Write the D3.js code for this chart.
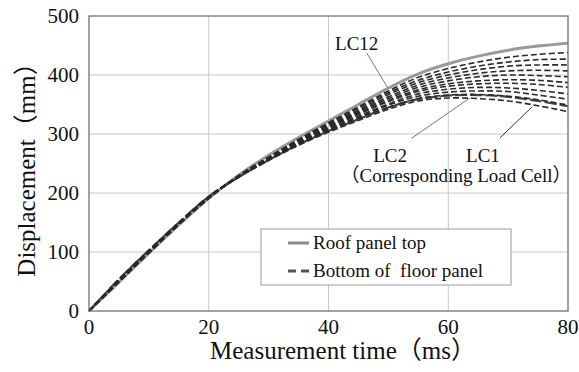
<!DOCTYPE html>
<html>
<head>
<meta charset="utf-8">
<script src="https://cdn.jsdelivr.net/npm/d3@7"></script>
<style>
    body { margin: 0; background: #fff; }
    svg text { font-family: "Liberation Serif", "Times New Roman", "Noto Sans CJK JP", serif; fill: #111; }
</style>
</head>
<body>
<div id="chart"></div>
<script>
"use strict";

// Sample times (ms)
const time = [0, 5, 10, 15, 20, 25, 30, 35, 40, 45, 50, 55, 60, 65, 70, 75, 80];

// Roof panel top displacement (mm)
const roofTop = [0, 49, 98, 146, 191, 230, 264, 294, 322, 350, 378, 402, 419, 432, 442, 449, 454];

// Bottom of floor panel, one series per load cell (mm)
const lc1  = [0, 54, 103, 150, 194, 227, 255, 281, 303, 323, 342, 356, 361, 360, 356, 348, 338];
const lc2  = [0, 54, 103, 150, 194, 227, 256, 282, 305, 325, 345, 359, 365, 366, 363, 356, 347];
const lc3  = [0, 53, 102, 149, 194, 227, 256, 282, 305, 326, 345, 360, 366, 367, 364, 358, 349];
const lc4  = [0, 53, 102, 149, 193, 227, 256, 283, 307, 328, 349, 364, 371, 373, 372, 366, 359];
const lc5  = [0, 52, 102, 149, 193, 227, 257, 284, 308, 330, 351, 368, 376, 379, 378, 374, 368];
const lc6  = [0, 52, 101, 148, 193, 228, 257, 285, 310, 333, 355, 372, 381, 385, 386, 384, 379];
const lc7  = [0, 51, 101, 148, 192, 228, 258, 286, 311, 335, 357, 375, 385, 390, 392, 391, 387];
const lc8  = [0, 51, 100, 148, 192, 228, 259, 287, 313, 337, 360, 379, 390, 397, 400, 399, 397];
const lc9  = [0, 50, 100, 147, 192, 229, 259, 288, 314, 339, 363, 383, 395, 403, 407, 408, 407];
const lc10 = [0, 50, 99, 147, 191, 229, 260, 289, 316, 341, 367, 387, 400, 409, 415, 417, 417];
const lc11 = [0, 49, 99, 147, 191, 229, 260, 290, 318, 344, 370, 391, 405, 415, 422, 426, 427];
const lc12 = [0, 49, 98, 146, 191, 230, 261, 291, 319, 346, 373, 396, 411, 422, 430, 435, 438];
const floorSeries = [lc1, lc2, lc3, lc4, lc5, lc6, lc7, lc8, lc9, lc10, lc11, lc12];

// Axis ticks
const xTicks = [0, 20, 40, 60, 80];
const yTicks = [0, 100, 200, 300, 400, 500];

// Chart size and margins
const width = 579, height = 372;
const margin = { top: 16, right: 11, bottom: 61, left: 89 };

const svg = d3.select("#chart").append("svg")
    .attr("width", width)
    .attr("height", height);

const xScale = d3.scaleLinear()
    .domain([0, 80])
    .range([margin.left, width - margin.right]);

const yScale = d3.scaleLinear()
    .domain([0, 500])
    .range([height - margin.bottom, margin.top]);

// Grid lines
const grid = svg.append("g").attr("class", "grid");
grid.selectAll("line.gx")
    .data(xTicks.slice(1, -1))
    .enter().append("line")
    .attr("class", "gx")
    .attr("x1", d => xScale(d)).attr("x2", d => xScale(d))
    .attr("y1", yScale(0)).attr("y2", yScale(500))
    .style("stroke", "#c8c8c8")
    .style("stroke-width", 1);
grid.selectAll("line.gy")
    .data(yTicks.slice(1, -1))
    .enter().append("line")
    .attr("class", "gy")
    .attr("x1", xScale(0)).attr("x2", xScale(80))
    .attr("y1", d => yScale(d)).attr("y2", d => yScale(d))
    .style("stroke", "#c8c8c8")
    .style("stroke-width", 1);

// Curves
const line = d3.line()
    .x((d, i) => xScale(time[i]))
    .y(d => yScale(d))
    .curve(d3.curveCatmullRom.alpha(0.5));

svg.append("path")
    .datum(roofTop)
    .attr("d", line)
    .style("fill", "none")
    .style("stroke", "#9a9a9a")
    .style("stroke-width", 3);

// LC2 is drawn with a longer, heavier dash
svg.append("g").attr("class", "floor")
    .selectAll("path")
    .data(floorSeries)
    .enter().append("path")
    .attr("d", line)
    .style("fill", "none")
    .style("stroke", (d, i) => i === 1 ? "#444" : "#2a2a2a")
    .style("stroke-width", (d, i) => i === 1 ? 2.2 : 1.6)
    .style("stroke-dasharray", (d, i) => i === 1 ? "12 3" : "6 3");

// Frame
svg.append("rect")
    .attr("x", xScale(0))
    .attr("y", yScale(500))
    .attr("width", xScale(80) - xScale(0))
    .attr("height", yScale(0) - yScale(500))
    .style("fill", "none")
    .style("stroke", "#707070")
    .style("stroke-width", 1.3);

// Tick labels
svg.append("g").selectAll("text")
    .data(xTicks)
    .enter().append("text")
    .attr("x", d => xScale(d))
    .attr("y", yScale(0) + 23)
    .attr("text-anchor", "middle")
    .style("font-size", "21px")
    .text(d => d);

svg.append("g").selectAll("text")
    .data(yTicks)
    .enter().append("text")
    .attr("x", xScale(0) - 10)
    .attr("y", d => yScale(d) + 7)
    .attr("text-anchor", "end")
    .style("font-size", "21px")
    .text(d => d);

// Axis titles
svg.append("text")
    .attr("x", 343)
    .attr("y", 359)
    .attr("text-anchor", "middle")
    .style("font-size", "25px")
    .text("Measurement time（ms）");

svg.append("text")
    .attr("transform", "translate(35," + ((yScale(0) + yScale(500)) / 2) + ") rotate(-90)")
    .attr("text-anchor", "middle")
    .style("font-size", "25px")
    .text("Displacement（mm）");

// Annotations (data units)
const leaders = [
    { from: [46.4, 437], to: [49.9, 378], color: "#777" },
    { from: [53.9, 293], to: [63.6, 361], color: "#777" },
    { from: [68.6, 293], to: [74.0, 346], color: "#333" }
];
svg.append("g").selectAll("line")
    .data(leaders)
    .enter().append("line")
    .attr("x1", d => xScale(d.from[0])).attr("y1", d => yScale(d.from[1]))
    .attr("x2", d => xScale(d.to[0])).attr("y2", d => yScale(d.to[1]))
    .style("stroke", d => d.color)
    .style("stroke-width", 1);

const notes = [
    { t: 41.1, v: 442, anchor: "start", text: "LC12" },
    { t: 50.3, v: 253, anchor: "middle", text: "LC2" },
    { t: 65.8, v: 253, anchor: "middle", text: "LC1" },
    { t: 61.3, v: 218, anchor: "middle", text: "（Corresponding Load Cell）" }
];
svg.append("g").selectAll("text")
    .data(notes)
    .enter().append("text")
    .attr("x", d => xScale(d.t))
    .attr("y", d => yScale(d.v))
    .attr("text-anchor", d => d.anchor)
    .style("font-size", "19px")
    .text(d => d.text);

// Legend
const legend = svg.append("g").attr("transform", "translate(261,229)");
legend.append("rect")
    .attr("width", 250)
    .attr("height", 56)
    .style("fill", "#fff")
    .style("stroke", "#999")
    .style("stroke-width", 1);
legend.append("line")
    .attr("x1", 27).attr("x2", 48).attr("y1", 14).attr("y2", 14)
    .style("stroke", "#8a8a8a")
    .style("stroke-width", 3);
legend.append("line")
    .attr("x1", 27).attr("x2", 50).attr("y1", 42).attr("y2", 42)
    .style("stroke", "#555")
    .style("stroke-width", 3)
    .style("stroke-dasharray", "8 5");
legend.append("text")
    .attr("x", 52).attr("y", 20)
    .style("font-size", "19px")
    .text("Roof panel top");
legend.append("text")
    .attr("x", 52).attr("y", 48)
    .style("font-size", "19px")
    .style("white-space", "pre")
    .text("Bottom of  floor panel");
</script>
</body>
</html>
